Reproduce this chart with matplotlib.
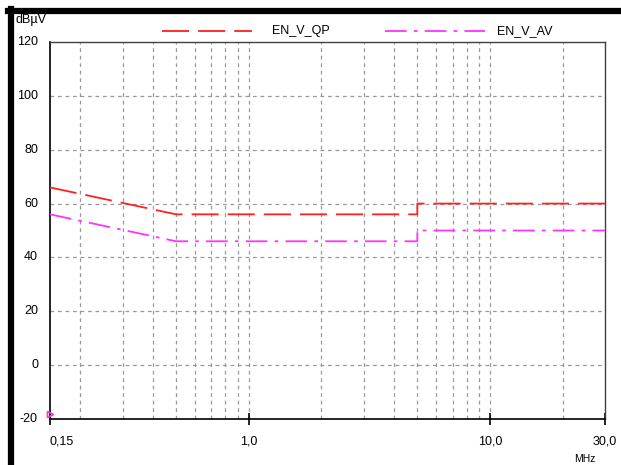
import math
import matplotlib
matplotlib.use("Agg")
import matplotlib.pyplot as plt
from matplotlib.lines import Line2D
from matplotlib.ticker import FixedLocator, NullFormatter

plt.rcParams['font.family'] = ['Liberation Sans', 'DejaVu Sans']

# Data
qp_freq = [0.15, 0.5, 5.0, 5.0, 30.0]
qp_level = [66, 56, 56, 60, 60]
av_freq = [0.15, 0.5, 5.0, 5.0, 30.0]
av_level = [56, 46, 46, 50, 50]
marker_freq = [0.15]
marker_level = [-18]
series_names = ["EN_V_QP", "EN_V_AV"]
x_ticks = [0.15, 1.0, 10.0, 30.0]
x_tick_labels = ["0,15", "1,0", "10,0", "30,0"]
y_ticks = [-20, 0, 20, 40, 60, 80, 100, 120]
grid_x = [0.2, 0.3, 0.4, 0.5, 0.6, 0.7, 0.8, 0.9, 1.0,
          2, 3, 4, 5, 6, 7, 8, 9, 10, 20]

W, H = 621, 465
fig = plt.figure(figsize=(W / 100, H / 100), dpi=100)
fig.patch.set_facecolor('white')

L, R, T, B = 50, 605, 42, 419
ax = fig.add_axes([L / W, 1 - B / H, (R - L) / W, (B - T) / H])
ax.set_xscale('log')
ax.set_xlim(0.15, 30)
ax.set_ylim(-20, 120)

grid_kw = dict(color='#999999', lw=0.9, ls=(0, (3, 3)), zorder=1)
for gx in grid_x:
    ax.axvline(gx, **grid_kw)
for gy in [0, 20, 40, 60, 80, 100]:
    ax.axhline(gy, **grid_kw)

ax.plot(qp_freq, qp_level, color='#ff2020', lw=1.3, ls=(0, (15, 5)), zorder=3)
ax.plot(av_freq, av_level, color='#ff33ff', lw=1.3, ls=(0, (12, 4, 2, 4)), zorder=3)
ax.plot(marker_freq, marker_level, marker='>', ms=5, mfc='none', mec='#ff3333',
        ls='none', zorder=4, clip_on=False)
ax.plot(marker_freq, marker_level, marker='>', ms=4, mfc='none', mec='#ff33ff',
        ls='none', zorder=4, clip_on=False)

ax.xaxis.set_major_locator(FixedLocator(x_ticks))
ax.xaxis.set_minor_locator(FixedLocator([]))
ax.xaxis.set_minor_formatter(NullFormatter())
ax.set_xticks(x_ticks)
ax.set_xticklabels([])
ax.tick_params(axis='x', which='major', direction='inout', length=8, width=1.2,
               color='black')
ax.set_yticks(y_ticks)
ax.set_yticklabels([])
ax.tick_params(axis='y', length=0)

for s in ['left', 'bottom']:
    ax.spines[s].set_color('black')
    ax.spines[s].set_linewidth(1.2)
for s in ['top', 'right']:
    ax.spines[s].set_color('#404040')
    ax.spines[s].set_linewidth(1.0)

fs = 9
# y tick labels
for yv in y_ticks:
    ypix = T + (120 - yv) / 140 * (B - T)
    fig.text(38 / W, 1 - ypix / H, str(yv), ha='right', va='center', fontsize=fs)
# x tick labels
for xv, lab in zip(x_ticks, x_tick_labels):
    if xv == x_ticks[0]:
        fig.text(50 / W, 1 - 441 / H, lab, ha='left', va='center', fontsize=fs)
    else:
        xpix = L + (math.log10(xv) - math.log10(0.15)) / (math.log10(30) - math.log10(0.15)) * (R - L)
        fig.text(xpix / W, 1 - 441 / H, lab, ha='center', va='center', fontsize=fs)

fig.text(16 / W, 1 - 20 / H, "dBµV", ha='left', va='center', fontsize=fs)
fig.text(585 / W, 1 - 459 / H, "MHz", ha='center', va='center', fontsize=7.5)

# legend
fig.add_artist(Line2D([162 / W, 252 / W], [1 - 31 / H] * 2, color='#ff2020', lw=1.3,
                      ls=(0, (15, 5))))
fig.text(272 / W, 1 - 31 / H, series_names[0], ha='left', va='center', fontsize=fs)
fig.add_artist(Line2D([385 / W, 485 / W], [1 - 31 / H] * 2, color='#ff33ff', lw=1.3,
                      ls=(0, (12, 4, 2, 4))))
fig.text(497 / W, 1 - 31 / H, series_names[1], ha='left', va='center', fontsize=fs)

# black frame
fig.add_artist(Line2D([8 / W, 1], [1 - 11 / H] * 2, color='black', lw=4.5))
fig.add_artist(Line2D([11 / W, 11 / W], [0, 1 - 8.8 / H], color='black', lw=4.5))

fig.savefig('out.png', dpi=100)
